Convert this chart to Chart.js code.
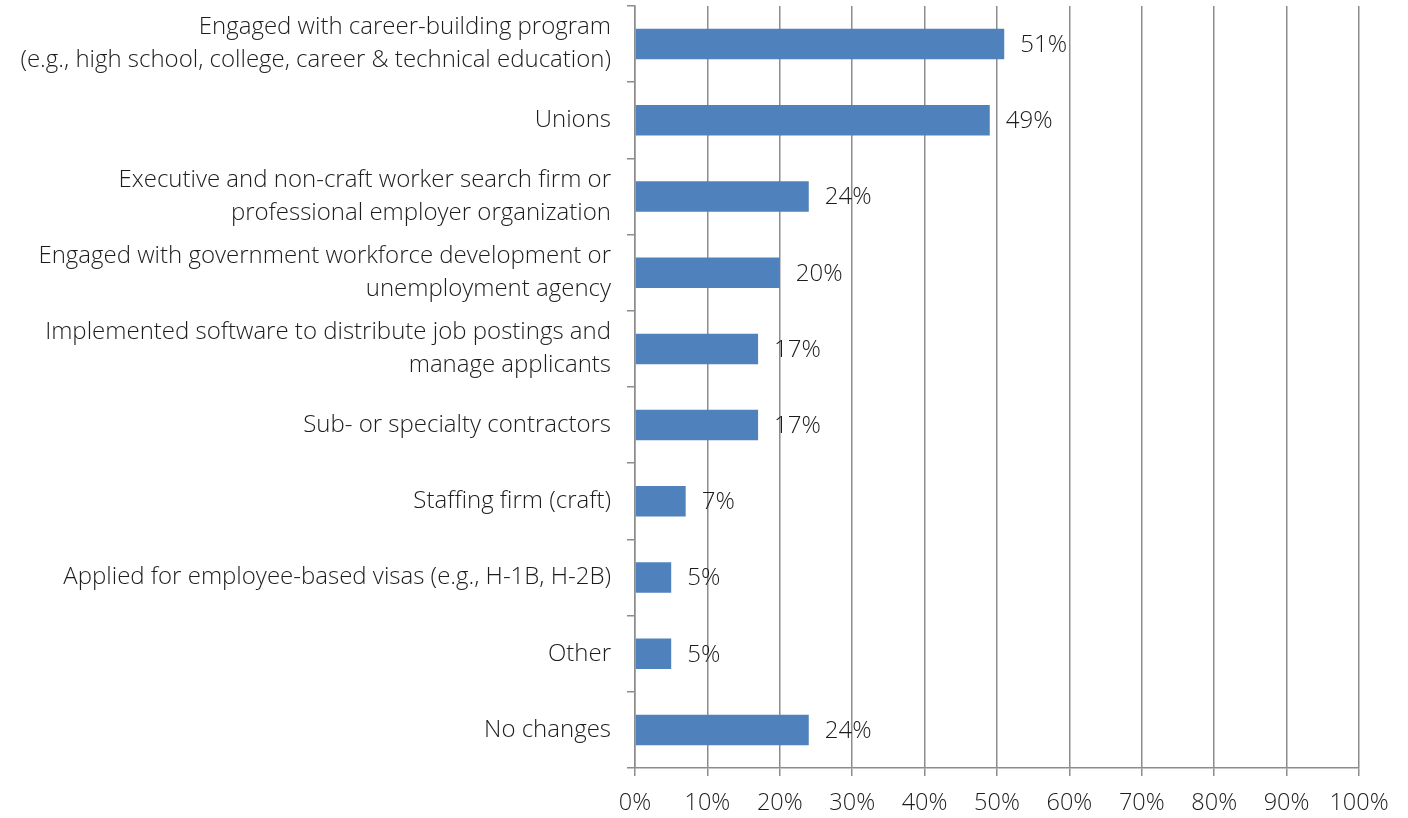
<!DOCTYPE html>
<html>
<head>
<meta charset="utf-8">
<script src="https://cdn.jsdelivr.net/npm/chart.js@4.4.1/dist/chart.umd.min.js"></script>
<style>
  html, body { margin: 0; padding: 0; background: #ffffff; }
  #wrap { width: 1408px; height: 818px; position: relative; }
</style>
</head>
<body>
<div id="wrap"><canvas id="c" width="1408" height="818"></canvas></div>
<script>
const categories = [
  ["Engaged with career-building program", "(e.g., high school, college, career & technical education)"],
  "Unions",
  ["Executive and non-craft worker search firm or", "professional employer organization"],
  ["Engaged with government workforce development or", "unemployment agency"],
  ["Implemented software to distribute job postings and", "manage applicants"],
  "Sub- or specialty contractors",
  "Staffing firm (craft)",
  "Applied for employee-based visas (e.g., H-1B, H-2B)",
  "Other",
  "No changes"
];
const values = [51, 49, 24, 20, 17, 17, 7, 5, 5, 24];
const xTicks = [0, 10, 20, 30, 40, 50, 60, 70, 80, 90, 100];

const FONT = "'Open Sans', 'Lato', sans-serif";
const TEXT = '#1c1c1c';
const GRID = '#8c8c8c';

const valueLabels = {
  id: 'valueLabels',
  afterDatasetsDraw(chart) {
    const ctx = chart.ctx;
    const meta = chart.getDatasetMeta(0);
    ctx.save();
    ctx.font = '300 24px ' + FONT;
    ctx.fillStyle = TEXT;
    ctx.textAlign = 'left';
    ctx.textBaseline = 'middle';
    meta.data.forEach((bar, i) => {
      ctx.fillText(values[i] + '%', bar.x + 16, bar.y + 1);
    });
    ctx.restore();
  }
};

new Chart(document.getElementById('c'), {
  type: 'bar',
  data: {
    labels: categories,
    datasets: [{
      data: values,
      backgroundColor: '#4F81BD',
      borderWidth: 0,
      barPercentage: 0.4,
      categoryPercentage: 1.0
    }]
  },
  options: {
    indexAxis: 'y',
    responsive: false,
    animation: false,
    devicePixelRatio: 1,
    layout: { padding: { top: 6, right: 49, bottom: 0, left: 0 } },
    plugins: { legend: { display: false }, tooltip: { enabled: false } },
    scales: {
      x: {
        min: 0, max: 100,
        afterBuildTicks(axis) { axis.ticks = xTicks.map(v => ({ value: v })); },
        afterFit(axis) { axis.height = 50; },
        ticks: {
          callback: v => v + '%',
          color: TEXT,
          font: { family: FONT, size: 23.5, weight: 300 },
          padding: 13,
          maxRotation: 0
        },
        grid: { color: GRID, lineWidth: 1.5, tickLength: 8, drawTicks: true },
        border: { color: GRID, width: 1.5 }
      },
      y: {
        afterFit(axis) { axis.width = 635; axis.paddingTop = 0; axis.paddingBottom = 0; },
        ticks: {
          color: TEXT,
          font: { family: FONT, size: 24, weight: 300, lineHeight: 1.375 },
          padding: 16
        },
        grid: { drawOnChartArea: false, color: GRID, lineWidth: 1.5, tickLength: 8, offset: true },
        border: { color: GRID, width: 1.5 }
      }
    }
  },
  plugins: [valueLabels]
});
</script>
</body>
</html>
